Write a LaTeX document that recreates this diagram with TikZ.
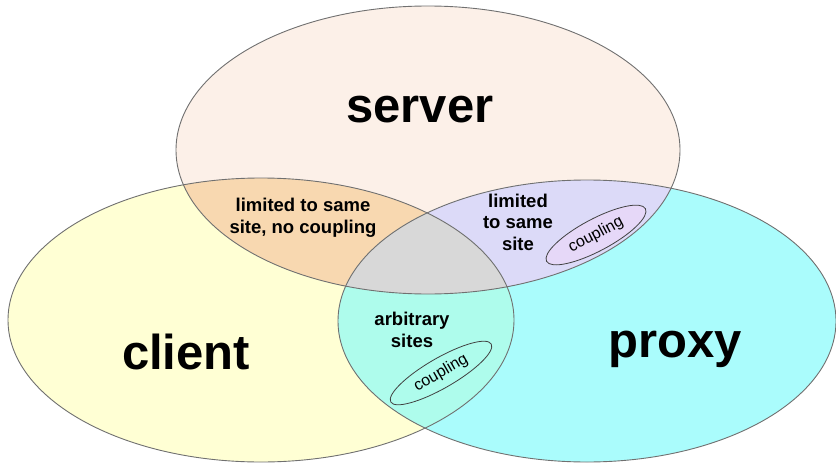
\documentclass[tikz,border=0pt]{standalone}
\usepackage{fontspec}
\setmainfont{Liberation Sans}
\usetikzlibrary{shapes.geometric}
\definecolor{srvC}{HTML}{FCF0E8}
\definecolor{cliC}{HTML}{FFFFD4}
\definecolor{prxC}{HTML}{AAFCFC}
\definecolor{scC}{HTML}{F8D8B0}
\definecolor{spC}{HTML}{DCDAF8}
\definecolor{cpC}{HTML}{AEFCEC}
\definecolor{allC}{HTML}{D8D8D8}
\definecolor{cplC}{HTML}{E6D8F8}
\definecolor{edgeC}{HTML}{707070}
\tikzset{
  edge/.style={draw=edgeC, line width=0.9pt},
  biglabel/.style={font=\fontsize{49}{56}\selectfont\bfseries, inner sep=0pt},
  smalllabel/.style={font=\fontsize{18.5}{21.5}\selectfont\bfseries, align=center, inner sep=0pt},
  couplebox/.style={ellipse, draw=black!75, line width=0.8pt, inner sep=0pt},
  coupletext/.style={font=\fontsize{16}{18}\selectfont, inner sep=0pt},
}
\begin{document}
\begin{tikzpicture}[x=1pt,y=-1pt]
\useasboundingbox (0,0) rectangle (836,466);
\def\srv{(428,150) ellipse [x radius=252, y radius=144]}
\def\cli{(261,320) ellipse [x radius=253, y radius=142]}
\def\prx{(587,321) ellipse [x radius=249, y radius=141]}
% base fills
\fill[srvC] \srv;
\fill[cliC] \cli;
\fill[prxC] \prx;
% pairwise intersections
\begin{scope}\clip \srv; \fill[scC] \cli; \end{scope}
\begin{scope}\clip \srv; \fill[spC] \prx; \end{scope}
\begin{scope}\clip \cli; \fill[cpC] \prx; \end{scope}
\begin{scope}\clip \srv; \clip \cli; \fill[allC] \prx; \end{scope}
% outlines
\draw[edge] \srv;
\draw[edge] \cli;
\draw[edge] \prx;
% labels
\node[biglabel] (server) at (420,110) {server};
\node[biglabel] (client) at (186,352) {client};
\node[biglabel] (proxy) at (675,349) {proxy};
\node[smalllabel] (sc) at (303,218) {limited to same\\site, no coupling};
\node[smalllabel] (sp) at (518,222) {limited\\to same\\site};
\node[smalllabel] (cp) at (412,330) {arbitrary\\sites};
\node[couplebox, fill=cplC, rotate=28, minimum width=112pt, minimum height=32pt] (c1) at (596,235) {};
\node[coupletext, rotate=28] (t1) at (c1.center) {coupling};
\node[couplebox, fill=cpC, rotate=30, minimum width=116pt, minimum height=30pt] (c2) at (441,373) {};
\node[coupletext, rotate=30] (t2) at (c2.center) {coupling};
\end{tikzpicture}
\end{document}
